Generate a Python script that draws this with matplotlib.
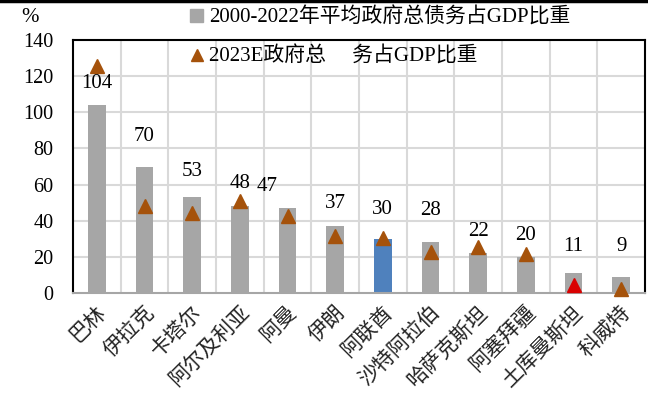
import matplotlib.pyplot as plt
from matplotlib.lines import Line2D
from matplotlib.patches import Patch
import numpy as np

plt.rcParams['font.family'] = ['Liberation Serif', 'Noto Sans CJK SC']

countries = ['巴林', '伊拉克', '卡塔尔', '阿尔及利亚', '阿曼', '伊朗', '阿联酋',
             '沙特阿拉伯', '哈萨克斯坦', '阿塞拜疆', '土库曼斯坦', '科威特']
avg_debt = [104, 70, 53, 48, 47, 37, 30, 28, 22, 20, 11, 9]
debt_2023e = [125.5, 48, 44.5, 51, 42.5, 31.5, 30.5, 22.5, 25.5, 21.5, 4.5, 2.2]

# where each value label sits (y in data units, x shift in categories)
label_y = [116, 86.5, 67, 60.7, 58.8, 49.6, 46, 45.4, 34, 32, 25.6, 25.6]
label_dx = [0, 0, 0, 0, -0.43, 0, 0, 0, 0, 0, 0, 0]

bar_colors = ['#A6A6A6'] * len(countries)
bar_colors[6] = '#4F81BD'
tri_colors = ['#A5520B'] * len(countries)
tri_colors[10] = '#D90000'

fig = plt.figure(figsize=(6.48, 3.94), dpi=100)
ax = fig.add_axes([73 / 648, 1 - 293 / 394, 572 / 648, 253 / 394])

x = np.arange(len(countries))
ax.bar(x, avg_debt, width=0.37, color=bar_colors, zorder=2)
for i in x:
    ax.plot(i, debt_2023e[i], marker='^', markersize=10, color=tri_colors[i],
            linestyle='none', zorder=3, clip_on=False)
    ax.text(i + label_dx[i], label_y[i], str(avg_debt[i]), ha='center', va='center',
            fontsize=15, zorder=4)

ax.set_xlim(-0.5, len(countries) - 0.5)
ax.set_ylim(0, 140)
ax.set_yticks(range(0, 141, 20))
ax.set_xticks(x)
ax.set_xticklabels(countries, rotation=45, ha='right', rotation_mode='anchor')
ax.tick_params(axis='both', length=0, labelsize=14.5)
ax.tick_params(axis='y', pad=14)
ax.tick_params(axis='x', pad=7)
for t in ax.get_xticklabels():
    t.set_fontsize(15)
    t.set_fontweight('light')
    t.set_color('#222222')

# grid on category boundaries and every 20
for b in np.arange(0.5, len(countries) - 0.5, 1):
    ax.axvline(b, color='#D9D9D9', linewidth=1.5, zorder=1)
for v in range(20, 140, 20):
    ax.axhline(v, color='#D9D9D9', linewidth=1.5, zorder=1)

for s in ['left', 'top', 'right']:
    ax.spines[s].set_color('black')
    ax.spines[s].set_linewidth(1.5)
ax.spines['bottom'].set_color('#A6A6A6')
ax.spines['bottom'].set_linewidth(1.5)

fig.text(30 / 648, 1 - 18 / 394, '%', fontsize=15, ha='center', va='center')
fig.add_artist(Line2D([0, 1], [0.997, 0.997], color='black', linewidth=2.5))

h1 = [Patch(color='#A6A6A6')]
fig.legend(h1, ['2000-2022年平均政府总债务占GDP比重'], loc='center left',
           bbox_to_anchor=(180 / 648, 1 - 18 / 394), frameon=False, fontsize=15,
           handlelength=0.6, handleheight=0.6, handletextpad=0.3, borderpad=0)
h2 = [Line2D([], [], marker='^', color='#A5520B', linestyle='none', markersize=8)]
fig.legend(h2, ['2023E政府总\u3000 务占GDP比重'], loc='center left',
           bbox_to_anchor=(180 / 648, 1 - 57 / 394), frameon=False, fontsize=15,
           handlelength=0.6, handletextpad=0.3, borderpad=0)

fig.savefig('out.png', dpi=100)
